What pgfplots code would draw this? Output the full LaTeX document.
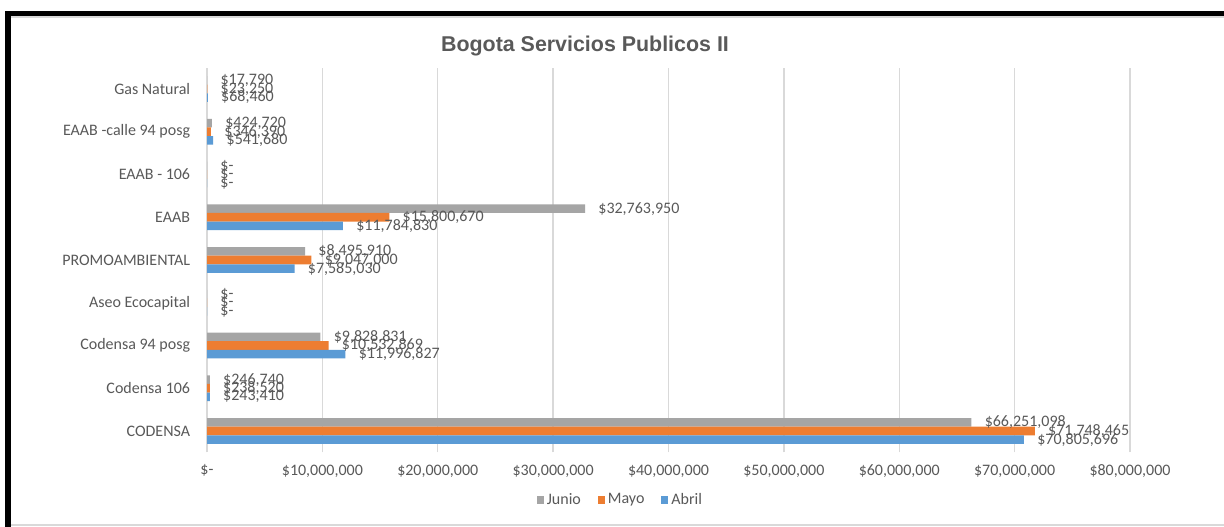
\documentclass[border=0pt]{standalone}
\usepackage{pgfplots}
\pgfplotsset{compat=1.18}
\usepackage{pgfplotstable}
\usepackage{fontspec}
\setmainfont{Carlito}
\newfontfamily\titlefont{Liberation Sans}

\definecolor{cJun}{HTML}{A5A5A5}
\definecolor{cMay}{HTML}{ED7D31}
\definecolor{cAbr}{HTML}{5B9BD5}
\definecolor{txt}{HTML}{595959}
\definecolor{grd}{HTML}{D9D9D9}

\newcommand\lab{\fontsize{8bp}{9.6bp}\selectfont}

% y: 0 = CODENSA (bottom) ... 8 = Gas Natural (top)
\pgfplotstableread{
y junio    mayo     abril    lj         lm         la
0 66251098 71748465 70805696 66,251,098 71,748,465 70,805,696
1 246740   238520   243410   246,740    238,520    243,410
2 9828831  10532869 11996827 9,828,831  10,532,869 11,996,827
3 0        0        0        -          -          -
4 8495910  9047000  7585030  8,495,910  9,047,000  7,585,030
5 32763950 15800670 11784830 32,763,950 15,800,670 11,784,830
6 0        0        0        -          -          -
7 424720   346390   541680   424,720    346,390    541,680
8 17790    23250    68460    17,790     23,250     68,460
}\datos

\begin{document}
\begin{tikzpicture}
\useasboundingbox (0,0) rectangle (612bp,263.5bp);
\fill[white] (0,0) rectangle (612bp,263.5bp);
% marco
\fill[black] (2.5bp,0) rectangle (5.5bp,258bp);
\fill[black] (2.5bp,255.5bp) rectangle (612bp,258bp);
\draw[grd, line width=0.6bp] (5.5bp,255bp) -- (612bp,255bp);
\draw[grd, line width=0.6bp] (5.5bp,1bp) -- (612bp,1bp);
\node[font=\titlefont\bfseries\fontsize{10.7bp}{12bp}\selectfont, text=txt] at (292.5bp,240.5bp) {Bogota Servicios Publicos II};

\begin{axis}[
  at={(103.5bp,37.3bp)}, anchor=south west,
  scale only axis, width=461.5bp, height=192.4bp,
  xbar, bar width=0.2,
  xmin=0, xmax=80000000,
  ymin=-0.5, ymax=8.5,
  axis line style={draw=none},
  tick style={draw=none},
  xmajorgrids, grid style={grd, line width=0.7bp},
  scaled x ticks=false,
  xtick={0,10000000,20000000,30000000,40000000,50000000,60000000,70000000,80000000},
  xticklabels={{\$-},{\$10,000,000},{\$20,000,000},{\$30,000,000},{\$40,000,000},{\$50,000,000},{\$60,000,000},{\$70,000,000},{\$80,000,000}},
  xticklabel style={font=\lab, text=txt, inner sep=0pt, anchor=north, yshift=-6bp},
  ytick={0,...,8},
  yticklabels={CODENSA,Codensa 106,Codensa 94 posg,Aseo Ecocapital,PROMOAMBIENTAL,EAAB,EAAB - 106,EAAB -calle 94 posg,Gas Natural},
  yticklabel style={font=\lab, text=txt, inner sep=0pt, anchor=east, xshift=-4bp},
  point meta=explicit symbolic,
  nodes near coords={\$\pgfplotspointmeta},
  every node near coord/.append style={font=\lab, text=txt, anchor=west, inner sep=0pt, xshift=6.5bp},
  legend columns=3,
  legend style={at={(0.4485,-0.1237)}, anchor=center, draw=none, fill=none,
    font=\lab, text=txt, nodes={inner sep=1.5bp},
    /tikz/every even column/.append style={column sep=7bp}},
  legend image code/.code={\fill[#1] (0bp,-1.75bp) rectangle (3.5bp,1.75bp);},
]
  \addplot[fill=cJun, draw=none, bar shift=0.2] table[x=junio, y=y, meta=lj] {\datos};
  \addlegendentry{Junio}
  \addplot[fill=cMay, draw=none, bar shift=0] table[x=mayo, y=y, meta=lm] {\datos};
  \addlegendentry{Mayo}
  \addplot[fill=cAbr, draw=none, bar shift=-0.2] table[x=abril, y=y, meta=la] {\datos};
  \addlegendentry{Abril}
\end{axis}
\end{tikzpicture}
\end{document}
